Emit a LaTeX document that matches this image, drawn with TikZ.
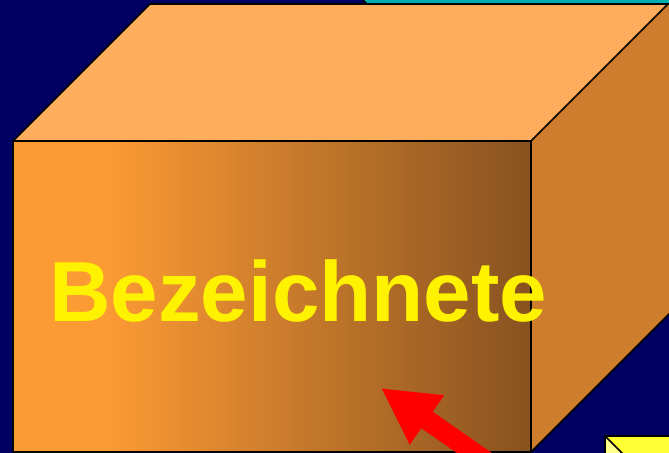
\documentclass[tikz,border=0pt]{standalone}
\usepackage{fontspec}
\setmainfont{Liberation Sans}
\usetikzlibrary{arrows.meta}
\definecolor{bxNavy}{RGB}{0,0,98}
\definecolor{bxTeal}{RGB}{0,176,176}
\definecolor{bxTop}{RGB}{253,173,92}
\definecolor{bxSide}{RGB}{205,125,43}
\definecolor{bxFront}{RGB}{252,154,52}
\definecolor{bxDark}{RGB}{135,82,32}
\definecolor{bxYellow}{RGB}{255,255,51}
\definecolor{bxPale}{RGB}{255,255,140}
\pgfdeclarehorizontalshading{frontshade}{100bp}{color(0bp)=(bxFront); color(34bp)=(bxFront); color(75bp)=(bxDark); color(100bp)=(bxDark)}

\begin{document}
\begin{tikzpicture}[x=0.75pt,y=-0.75pt,
    edge/.style={draw=black,line width=1.3pt,line join=round}]
  \useasboundingbox (0,0) rectangle (669,453);
  \clip (0,0) rectangle (669,453);
  \fill[bxNavy] (0,0) rectangle (669,453);
  % bar at the top
  \filldraw[fill=bxTeal,edge] (360,-20) -- (363,0) -- (367,4) -- (690,4) -- (690,-20) -- cycle;
  % box
  \fill[bxTop] (13,141) -- (150,4) -- (668,4) -- (531,141) -- cycle;
  \fill[bxSide] (531,141) -- (668,4) -- (690,4) -- (690,293) -- (531,452) -- cycle;
  \shade[shading=frontshade] (13,141) rectangle (531,452);
  \draw[edge] (13,141) -- (150,4) -- (690,4);
  \draw[edge] (13,141) rectangle (531,452);
  \draw[edge] (531,141) -- (668,4);
  \draw[edge] (531,452) -- (690,293);
  \node[anchor=base west,inner sep=0pt,text=yellow,
        font=\fontsize{64}{64}\selectfont\bfseries] (word) at (49,321) {Bezeichnete};
  % pointer
  \coordinate (tail) at (519,484);
  \coordinate (tip) at (381,388);
  \draw[-{Triangle[length=42pt,width=42pt]},red,line width=15pt] (tail) -- (tip);
  % yellow note, bottom right
  \fill[bxYellow] (605,436) rectangle (690,480);
  \fill[bxPale] (605,436) -- (650,481) -- (605,481) -- cycle;
  \draw[edge] (605,480) -- (605,436) -- (690,436);
  \draw[edge] (605,436) -- (640,471);
\end{tikzpicture}
\end{document}
